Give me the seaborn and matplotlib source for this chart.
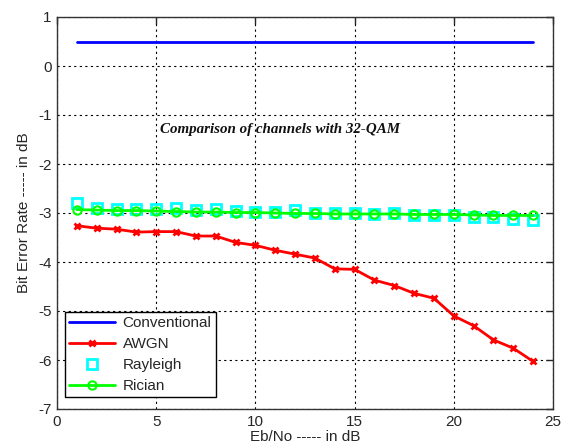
import numpy as np
import pandas as pd
import matplotlib
matplotlib.use("Agg")
import matplotlib.pyplot as plt
import seaborn as sns

# values
ebno = list(range(1, 25))
conventional = [0.5] * 24
awgn = [-3.26, -3.31, -3.33, -3.39, -3.38, -3.38, -3.47, -3.47, -3.60, -3.66,
        -3.76, -3.84, -3.92, -4.14, -4.15, -4.37, -4.48, -4.64, -4.74, -5.10,
        -5.30, -5.59, -5.76, -6.03]
rayleigh = [-2.80, -2.89, -2.92, -2.92, -2.92, -2.90, -2.93, -2.92, -2.96, -2.97,
            -2.98, -2.94, -2.99, -3.01, -2.99, -3.02, -3.01, -3.05, -3.04, -3.05,
            -3.09, -3.09, -3.12, -3.14]
rician = [-2.93, -2.94, -2.95, -2.95, -2.96, -2.97, -2.98, -2.98, -2.99, -2.99,
          -3.00, -3.01, -3.01, -3.02, -3.02, -3.02, -3.02, -3.03, -3.03, -3.03,
          -3.04, -3.05, -3.05, -3.05]

df = pd.DataFrame({"ebno": ebno, "Conventional": conventional, "AWGN": awgn,
                   "Rayleigh": rayleigh, "Rician": rician})

sns.set_style("white")
plt.rcParams["font.family"] = ["Liberation Sans", "DejaVu Sans"]
plt.rcParams["axes.unicode_minus"] = False

fig = plt.figure(figsize=(5.66, 4.46), dpi=100)
ax = fig.add_axes([57 / 566, 1 - 409 / 446, 496 / 566, 392 / 446])

sns.lineplot(ax=ax, data=df, x="ebno", y="Conventional", color="#0000ff",
             linestyle="-", lw=2, label="Conventional")
sns.lineplot(ax=ax, data=df, x="ebno", y="AWGN", color="#ff0000",
             linestyle="-", lw=2, marker="x", markersize=5,
             markeredgewidth=2, markeredgecolor="#ff0000", label="AWGN")
sns.lineplot(ax=ax, data=df, x="ebno", y="Rayleigh", color="#00ffff",
             linestyle="none", marker="s", markersize=7, markerfacecolor="none",
             markeredgecolor="#00ffff", markeredgewidth=2, label="Rayleigh")
sns.lineplot(ax=ax, data=df, x="ebno", y="Rician", color="#00ff00",
             linestyle="-", lw=2, marker="o", markersize=6,
             markerfacecolor="none", markeredgecolor="#00ff00",
             markeredgewidth=1.5, label="Rician")

ax.set_xlim(0, 25)
ax.set_ylim(-7, 1)
ax.set_xticks(range(0, 26, 5))
ax.set_yticks(range(-7, 2))
ax.grid(True, color="black", linestyle=(0, (2, 3)), linewidth=0.8)
ax.tick_params(direction="in", length=5, top=True, right=True,
               labelsize=11, width=1, pad=4)
for s in ax.spines.values():
    s.set_color("#333333")
    s.set_linewidth(1)

ax.set_xlabel("Eb/No ----- in dB", fontsize=11, labelpad=1)
ax.set_ylabel("Bit Error Rate ----- in dB", fontsize=11, labelpad=5)

ax.text(5.2, -1.37, "Comparison of channels with 32-QAM", fontsize=10.8,
        family=["Liberation Serif", "DejaVu Serif"], style="italic",
        weight="bold", color="#111111", va="baseline")

leg = ax.legend(loc="lower left", fontsize=11, frameon=True, fancybox=False,
                borderpad=0.3, labelspacing=0.45, handlelength=3.0,
                handletextpad=0.5, bbox_to_anchor=(0.0, 0.01))
leg.get_frame().set_edgecolor("black")
leg.get_frame().set_linewidth(1)
leg.get_frame().set_alpha(1)

fig.savefig("out.png", dpi=100)
